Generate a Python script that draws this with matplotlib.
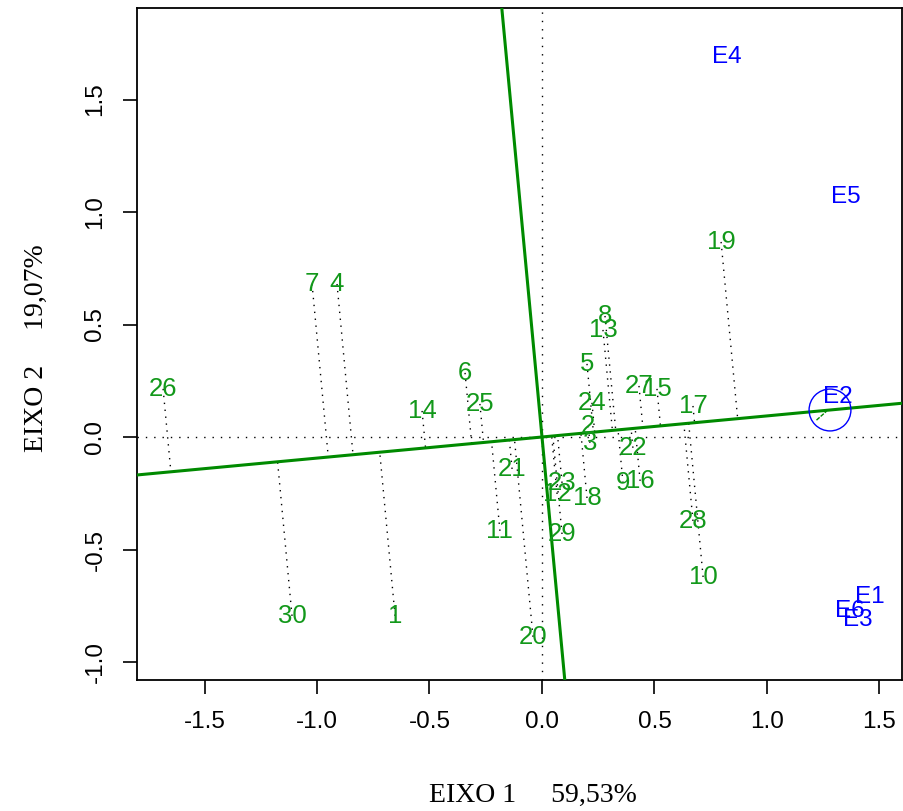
import matplotlib
matplotlib.use('Agg')
import matplotlib.pyplot as plt
import numpy as np
from matplotlib.patches import Circle

plt.rcParams['axes.unicode_minus'] = False

# genotype scores (eixo 1, eixo 2)
gen_names = ['1', '2', '3', '4', '5', '6', '7', '8', '9', '10',
             '11', '12', '13', '14', '15', '16', '17', '18', '19', '20',
             '21', '22', '23', '24', '25', '26', '27', '28', '29', '30']
gen_x = [-0.653, 0.204, 0.213, -0.911, 0.200, -0.342, -1.022, 0.280, 0.360, 0.716,
         -0.187, 0.067, 0.271, -0.533, 0.511, 0.436, 0.671, 0.200, 0.796, -0.040,
         -0.133, 0.404, 0.089, 0.222, -0.276, -1.684, 0.431, 0.671, 0.089, -1.111]
gen_y = [-0.795, 0.049, -0.026, 0.680, 0.325, 0.285, 0.680, 0.538, -0.204, -0.622,
         -0.417, -0.253, 0.476, 0.116, 0.214, -0.195, 0.138, -0.271, 0.867, -0.888,
         -0.142, -0.048, -0.204, 0.152, 0.147, 0.214, 0.227, -0.373, -0.431, -0.795]

# environment scores
env_names = ['E1', 'E2', 'E3', 'E4', 'E5', 'E6']
env_x = [1.458, 1.316, 1.404, 0.822, 1.351, 1.369]
env_y = [-0.713, 0.176, -0.815, 1.691, 1.065, -0.775]

# average environment
avg_env = (1.28, 0.12)

green_txt = '#12981a'
green_line = '#008a00'

fig = plt.figure(figsize=(9.04, 8.11), dpi=100)
ax = fig.add_axes([137/904, 131/811, 765/904, 672/811])
ax.set_xlim(-1.8, 1.6)
ax.set_ylim(-1.08, 1.9067)

# reference dotted lines through origin
ax.axhline(0, color='black', lw=1, ls=(0, (1, 5)))
ax.axvline(0, color='black', lw=1, ls=(0, (1, 5)))

# average environment axis and its perpendicular
s = avg_env[1] / avg_env[0]
ax.axline((0, 0), slope=s, color=green_line, lw=2.2, zorder=3)
ax.axline((0, 0), slope=-1/s, color=green_line, lw=2.2, zorder=3)

# projections of genotypes onto the AEC line
for x, y in zip(gen_x, gen_y):
    t = (x + s*y) / (1 + s*s)
    ax.plot([x, t], [y, t*s], color='black', lw=1, ls=(0, (1, 4)), zorder=2)

for n, x, y in zip(gen_names, gen_x, gen_y):
    ax.text(x, y, n, color=green_txt, fontsize=18.5, ha='center', va='center',
            family='Liberation Sans', zorder=4)

for n, x, y in zip(env_names, env_x, env_y):
    ax.text(x, y, n, color='blue', fontsize=17.5, ha='center', va='center',
            family='Liberation Sans', zorder=4)

ax.add_patch(Circle(avg_env, 0.093, fill=False, ec='blue', lw=1, zorder=5))
ax.plot([avg_env[0] - 0.06, avg_env[0] - 0.015], [avg_env[1] - 0.045, avg_env[1] - 0.005],
        color=green_line, lw=1, ls=(0, (3, 1)), zorder=5)

ax.set_xticks([-1.5, -1.0, -0.5, 0.0, 0.5, 1.0, 1.5])
ax.set_yticks([-1.0, -0.5, 0.0, 0.5, 1.0, 1.5])
ax.tick_params(direction='out', length=10, width=1.2, pad=12, labelsize=17.5)
for lab in ax.get_xticklabels():
    lab.set_family('Liberation Sans')
for lab in ax.get_yticklabels():
    lab.set_family('Liberation Sans')
    lab.set_rotation(90)
    lab.set_va('center')
for sp in ax.spines.values():
    sp.set_linewidth(1.3)

fig.text(533/904, 1 - 795/811, 'EIXO 1     59,53%', family='Liberation Serif',
         fontsize=20, ha='center', va='center')
fig.text(36/904, 1 - 348/811, 'EIXO 2     19,07%', family='Liberation Serif',
         fontsize=20, ha='center', va='center', rotation=90)

fig.savefig('out.png', dpi=100)
